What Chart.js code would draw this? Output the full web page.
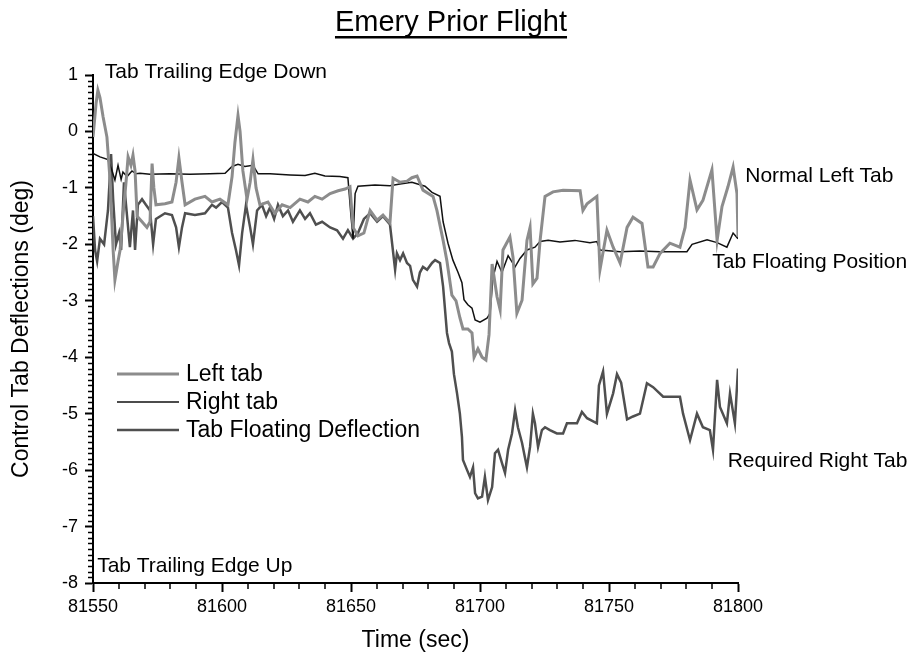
<!DOCTYPE html>
<html>
<head>
<meta charset="utf-8">
<title>Emery Prior Flight</title>
<script src="https://cdn.jsdelivr.net/npm/chart.js@4.4.1/dist/chart.umd.min.js"></script>
<style>
  html, body { margin: 0; padding: 0; background: #fff; }
  #chartBox { width: 910px; height: 658px; }
</style>
</head>
<body>
<div id="chartBox"><canvas id="tabCanvas" width="910" height="658"></canvas></div>
<script>
// time axis (sec) and tab deflections (deg), one pair of arrays per trace
const leftTime = [
  81550, 81551.2, 81551.9, 81552.7, 81553.9, 81555.4, 81556.6, 81557.8, 81558.5, 81559.7,
  81560.5, 81561.6, 81562.8, 81563.6, 81564.7, 81565.5, 81566.3, 81567.1, 81569, 81570.9,
  81572.1, 81572.9, 81573.6, 81574.4, 81577.9, 81580.6, 81582.2, 81583.3, 81584.5, 81585.7,
  81589.5, 81593.4, 81596.1, 81599.2, 81602.3, 81603.9, 81605, 81606.2, 81607, 81608.1,
  81609.7, 81610.9, 81612, 81613.2, 81614.7, 81617.8, 81620.5, 81623.3, 81626.4, 81630.2,
  81633.3, 81636, 81638.8, 81641.9, 81645, 81647.7, 81649.6, 81650.8, 81652.7, 81655,
  81657.4, 81660.1, 81662.4, 81665.1, 81666.3, 81669, 81671.7, 81673.6, 81675.6, 81677.9,
  81681.8, 81683.3, 81685.7, 81687.2, 81689.1, 81690.7, 81692.2, 81693.4, 81695.3, 81696.9,
  81697.7, 81699.2, 81700.8, 81702.3, 81703.5, 81704.7, 81706.6, 81707.8, 81708.9, 81711.6,
  81712.8, 81714.3, 81716.3, 81718.2, 81719.4, 81720.5, 81722.1, 81723.3, 81725.2, 81728.3,
  81732.2, 81738.8, 81739.9, 81741.5, 81745.3, 81746.5, 81749.2, 81751.6, 81754.3, 81757,
  81759.3, 81762.8, 81765.1, 81767.1, 81769.8, 81773.6, 81777.5, 81779.5, 81781.4, 81784.1,
  81786.4, 81789.9, 81791.9, 81793.8, 81796.1, 81798.1, 81799.6, 81800
];
const leftDeg = [
  -0.1, 0.5, 0.73, 0.6, 0.26, -0.1, -0.86, -2.1, -2.63, -2.3,
  -2.1, -1.5, -0.9, -0.45, -0.6, -0.42, -0.7, -1.5, -1.6, -1.7,
  -1.6, -0.57, -1.0, -1.3, -1.28, -1.25, -0.9, -0.47, -0.9, -1.3,
  -1.2, -1.15, -1.25, -1.2, -1.3, -0.8, -0.2, 0.28, 0.0, -0.7,
  -1.2, -0.9, -0.5, -1.0, -1.3, -1.25, -1.45, -1.3, -1.35, -1.2,
  -1.25, -1.15, -1.2, -1.1, -1.05, -1.02, -0.98, -1.7, -1.85, -1.8,
  -1.4, -1.57, -1.48, -1.62, -0.83, -0.9, -0.88, -0.82, -0.79, -1.04,
  -1.15, -1.4, -1.93, -2.3, -2.9, -3.0, -3.3, -3.5, -3.5, -3.57,
  -4.0, -3.85, -4.0, -4.05, -3.6, -2.35, -2.93, -3.16, -2.1, -1.87,
  -2.23, -3.22, -2.99, -1.93, -1.7, -2.7, -2.6, -1.93, -1.15, -1.07,
  -1.04, -1.05, -1.4, -1.28, -1.15, -2.45, -1.75, -2.05, -2.33, -1.7,
  -1.52, -1.63, -2.4, -2.4, -2.16, -1.98, -2.05, -1.7, -0.86, -1.39,
  -1.22, -0.68, -1.93, -1.33, -0.98, -0.63, -1.1, -1.87
];

const rightTime = [
  81550, 81552.7, 81555.8, 81557.4, 81558.5, 81559.7, 81560.9, 81561.6, 81563.2, 81565.1,
  81566.7, 81568.2, 81572.1, 81579.8, 81587.6, 81595.3, 81601.2, 81603.9, 81606.2, 81608.9,
  81612, 81614, 81618.6, 81626.4, 81632.2, 81636, 81639.9, 81645.7, 81648.8, 81650,
  81650.8, 81651.6, 81652.7, 81659.3, 81665.1, 81669, 81673.6, 81678.7, 81681.4, 81684.5,
  81685.7, 81687.6, 81689.5, 81691.5, 81693, 81693.8, 81695.3, 81696.9, 81698.1, 81700,
  81702.7, 81703.9, 81705, 81706.6, 81708.5, 81710.9, 81713.6, 81715.5, 81718.2, 81721.3,
  81723.3, 81726.4, 81731, 81736.8, 81742.6, 81745.3, 81746.5, 81754.3, 81762, 81769.8,
  81780.2, 81782.2, 81788, 81791.9, 81795.7, 81798.1, 81800
];
const rightDeg = [
  -0.39, -0.45, -0.5, -0.7, -0.86, -0.6, -0.85, -0.72, -0.8, -0.7,
  -0.75, -0.74, -0.76, -0.75, -0.76, -0.75, -0.74, -0.62, -0.58, -0.62,
  -0.6, -0.75, -0.75, -0.77, -0.78, -0.74, -0.79, -0.8, -0.82, -1.5,
  -1.9, -1.1, -0.97, -0.95, -0.96, -0.93, -0.9, -0.97, -1.08, -1.15,
  -1.6, -1.98, -2.28, -2.5, -2.68, -2.98, -3.07, -3.13, -3.34, -3.38,
  -3.31, -3.22, -2.6, -2.3, -2.5, -2.2, -2.4, -2.25, -2.1, -2.05,
  -1.95, -1.93, -1.96, -1.93, -1.97, -1.95, -2.1, -2.13, -2.12, -2.13,
  -2.13, -2.0, -1.92, -1.97, -2.05, -1.8, -1.9
];

const floatTime = [
  81550, 81550.8, 81551.6, 81552.7, 81554.3, 81555.8, 81557, 81557.8, 81558.9, 81560.1,
  81560.9, 81562, 81563.2, 81564.3, 81565.5, 81566.3, 81567.4, 81569, 81570.5, 81572.1,
  81573.3, 81574.4, 81577.9, 81580.6, 81582.2, 81583.3, 81584.5, 81585.7, 81589.5, 81593.4,
  81596.1, 81597.7, 81600, 81602.3, 81603.9, 81605.4, 81606.6, 81607.8, 81609.3, 81610.9,
  81612, 81613.6, 81615.5, 81617.1, 81618.6, 81620.2, 81621.7, 81623.6, 81625.6, 81627.5,
  81630.2, 81632.2, 81634.1, 81636.4, 81638.8, 81641.9, 81644.6, 81646.9, 81648.8, 81650.8,
  81652.7, 81655, 81657.4, 81660.1, 81662.4, 81665.1, 81667.1, 81667.8, 81669, 81670.2,
  81671.7, 81672.9, 81674, 81675.6, 81676.7, 81677.9, 81679.5, 81681.4, 81682.6, 81684.5,
  81685.7, 81687.2, 81688, 81689.1, 81689.9, 81691.1, 81692.2, 81693, 81693.4, 81695,
  81696.1, 81697.3, 81698.1, 81699.2, 81700.8, 81701.9, 81703.1, 81704.7, 81705.8, 81707,
  81708.5, 81709.7, 81710.9, 81712.4, 81713.6, 81714.7, 81716.3, 81717.4, 81718.2, 81719.4,
  81720.5, 81721.3, 81722.5, 81724, 81725.2, 81727.1, 81729.8, 81732.2, 81733.7, 81737.6,
  81739.5, 81741.5, 81745.3, 81746.1, 81747.7, 81749.2, 81751.6, 81753.1, 81754.7, 81757,
  81759.3, 81762, 81764.7, 81767.1, 81771, 81774.8, 81777.5, 81778.7, 81781.4, 81784.1,
  81786.4, 81789.1, 81790.3, 81791.9, 81793, 81795.7, 81796.9, 81798.8, 81800
];
const floatDeg = [
  -1.5, -2.1, -2.3, -1.9, -2.0, -1.4, -0.4, -1.2, -2.0, -1.8,
  -2.1, -0.9, -1.5, -2.05, -1.4, -2.1, -1.3, -1.2, -1.3, -1.4,
  -2.0, -1.55, -1.45, -1.48, -1.7, -2.05, -1.7, -1.45, -1.48, -1.45,
  -1.3, -1.35, -1.25, -1.35, -1.8, -2.1, -2.37, -1.8, -1.3, -1.7,
  -2.0, -1.4, -1.3, -1.5, -1.35, -1.55, -1.3, -1.5, -1.4, -1.6,
  -1.4, -1.55, -1.45, -1.65, -1.6, -1.7, -1.75, -1.9, -1.75, -1.9,
  -1.8, -1.55, -1.45, -1.6, -1.5, -1.65, -2.45, -2.16, -2.28, -2.16,
  -2.33, -2.38, -2.63, -2.75, -2.5, -2.4, -2.45, -2.33, -2.28, -2.33,
  -2.75, -3.57, -3.75, -3.9, -4.3, -4.64, -5.0, -5.41, -5.82, -6.0,
  -6.12, -5.95, -6.41, -6.5, -6.47, -6.12, -6.53, -6.3, -5.7, -5.64,
  -5.87, -6.05, -5.64, -5.35, -4.94, -5.24, -5.52, -5.77, -5.95, -5.59,
  -5.0, -5.17, -5.59, -5.29, -5.24, -5.29, -5.35, -5.35, -5.17, -5.17,
  -4.97, -5.08, -5.17, -4.5, -4.25, -5.0, -4.64, -4.3, -4.45, -5.1,
  -5.05, -5.0, -4.46, -4.53, -4.7, -4.7, -4.7, -5.0, -5.47, -5.0,
  -5.24, -5.29, -5.64, -4.4, -4.88, -5.17, -4.64, -5.17, -4.2
];

const seriesNames = ['Left tab', 'Right tab', 'Tab Floating Deflection'];
const xTicks = { min: 81550, max: 81800, step: 50, minor: 10 };
const yTicks = { min: -8, max: 1, step: 1, minor: 0.1 };

const FONT = '"Liberation Sans", Arial, Helvetica, sans-serif';

// free text written into the plot, anchored in data units
const notes = [
  { text: 'Tab Trailing Edge Down', t: 81554.6, deg: 0.95 },
  { text: 'Tab Trailing Edge Up', t: 81551.6, deg: -7.8 },
  { text: 'Normal Left Tab', t: 81802.8, deg: -0.9 },
  { text: 'Tab Floating Position', t: 81790, deg: -2.42 },
  { text: 'Required Right Tab', t: 81796, deg: -5.95 }
];

const toPoints = (times, vals) => times.map((t, i) => ({ x: t, y: vals[i] }));

const lineStyles = [
  { color: '#8c8c8c', width: 3 },
  { color: '#111111', width: 1.5 },
  { color: '#4f4f4f', width: 2.5 }
];

const datasets = [
  toPoints(leftTime, leftDeg),
  toPoints(rightTime, rightDeg),
  toPoints(floatTime, floatDeg)
].map((pts, i) => ({
  label: seriesNames[i],
  data: pts,
  borderColor: lineStyles[i].color,
  borderWidth: lineStyles[i].width,
  pointRadius: 0,
  tension: 0,
  fill: false
}));

/**
 * minor ticks, in-plot legend, notes and the underlined heading
 */
const decorations = {
  id: 'decorations',
  afterDraw(chart) {
    const { ctx, scales: { x, y } } = chart;
    ctx.save();

    // minor tick marks on both axes
    ctx.strokeStyle = '#000';
    ctx.lineWidth = 1.5;
    ctx.beginPath();
    for (let t = xTicks.min; t <= xTicks.max; t += xTicks.minor) {
      if ((t - xTicks.min) % xTicks.step === 0) continue;
      const px = Math.round(x.getPixelForValue(t));
      ctx.moveTo(px, y.bottom);
      ctx.lineTo(px, y.bottom + 6);
    }
    for (let k = 0; k <= (yTicks.max - yTicks.min) / yTicks.minor; k++) {
      if (k % 10 === 0) continue;
      const py = Math.round(y.getPixelForValue(yTicks.min + k * yTicks.minor)) + 0.5;
      ctx.moveTo(x.left, py);
      ctx.lineTo(x.left - 5, py);
    }
    ctx.stroke();

    // legend box inside the plot
    ctx.font = `23px ${FONT}`;
    ctx.fillStyle = '#000';
    ctx.textBaseline = 'middle';
    chart.data.datasets.forEach((ds, i) => {
      const rowY = 374 + i * 28;
      ctx.strokeStyle = ds.borderColor;
      ctx.lineWidth = ds.borderWidth;
      ctx.beginPath();
      ctx.moveTo(117, rowY);
      ctx.lineTo(179, rowY);
      ctx.stroke();
      ctx.fillText(ds.label, 186, rowY + 1);
    });

    // notes
    ctx.font = `21px ${FONT}`;
    ctx.textBaseline = 'alphabetic';
    ctx.textAlign = 'left';
    notes.forEach(({ text, t, deg }) => {
      ctx.fillText(text, x.getPixelForValue(t), y.getPixelForValue(deg));
    });

    // heading with underline
    const heading = 'Emery Prior Flight';
    ctx.font = `29px ${FONT}`;
    ctx.textAlign = 'center';
    const cx = 451;
    ctx.fillText(heading, cx, 31);
    const w = ctx.measureText(heading).width;
    ctx.fillRect(cx - w / 2, 36, w, 2.5);

    ctx.restore();
  }
};

const axisFont = { family: FONT, size: 18 };
const titleFont = { family: FONT, size: 23 };

const chart = new Chart(document.getElementById('tabCanvas').getContext('2d'), {
  type: 'line',
  data: { datasets },
  options: {
    responsive: false,
    animation: false,
    layout: { padding: { top: 75, right: 172, left: 0, bottom: 0 } },
    plugins: {
      legend: { display: false },
      tooltip: { enabled: false },
      title: { display: false }
    },
    scales: {
      x: {
        type: 'linear',
        min: xTicks.min,
        max: xTicks.max,
        afterFit(scale) { scale.height = 75; },
        ticks: {
          stepSize: xTicks.step,
          color: '#000',
          font: axisFont,
          padding: 4,
          maxRotation: 0,
          callback: v => String(v)
        },
        grid: { drawOnChartArea: false, drawTicks: true, tickLength: 9, tickColor: '#000', tickWidth: 2 },
        border: { display: true, color: '#000', width: 2 },
        title: { display: true, text: 'Time (sec)', color: '#000', font: titleFont, padding: { top: 0, bottom: 4 } }
      },
      y: {
        min: yTicks.min,
        max: yTicks.max,
        afterFit(scale) { scale.width = 93; },
        ticks: {
          stepSize: yTicks.step,
          color: '#000',
          font: axisFont,
          padding: 7,
          callback: v => String(v)
        },
        grid: { drawOnChartArea: false, drawTicks: true, tickLength: 8, tickColor: '#000', tickWidth: 2 },
        border: { display: true, color: '#000', width: 2 },
        title: { display: true, text: 'Control Tab Deflections (deg)', color: '#000', font: titleFont, padding: { top: 8, bottom: 0 } }
      }
    }
  },
  plugins: [decorations]
});
</script>
</body>
</html>
